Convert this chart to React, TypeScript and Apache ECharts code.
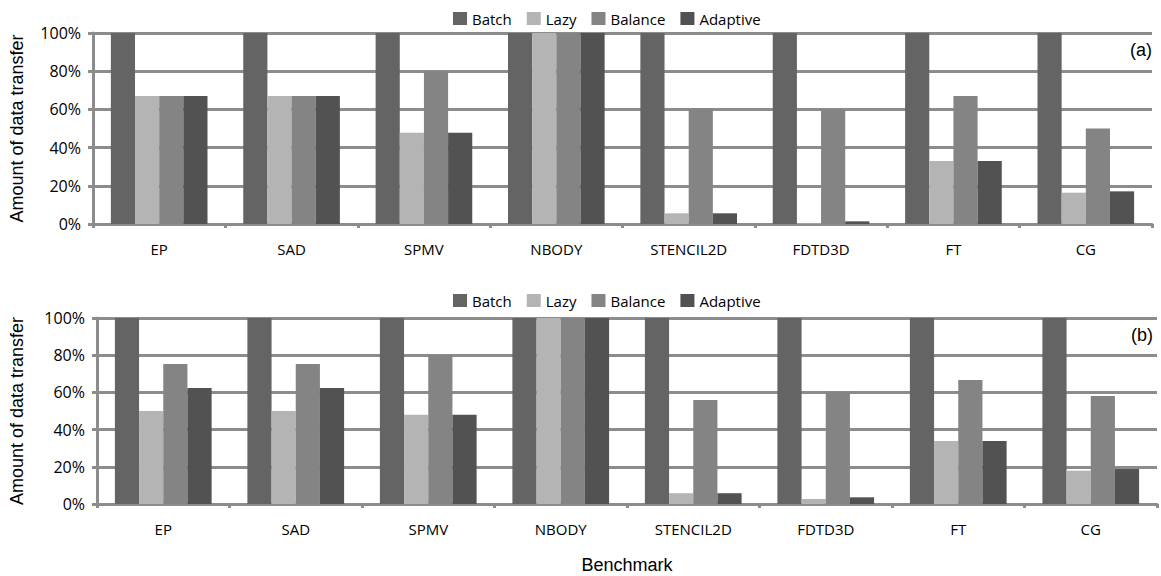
import React, { useEffect, useRef } from "react";
import * as echarts from "echarts";

const categories = ["EP", "SAD", "SPMV", "NBODY", "STENCIL2D", "FDTD3D", "FT", "CG"];
const seriesNames = ["Batch", "Lazy", "Balance", "Adaptive"];
const colors = ["#646464", "#b4b4b4", "#848484", "#525252"];

// Panel (a)
const batchA = [100, 100, 100, 100, 100, 100, 100, 100];
const lazyA = [67, 67, 47.8, 100, 5.6, 0.3, 33, 16.4];
const balanceA = [67, 67, 80, 100, 60.5, 60, 67, 50];
const adaptiveA = [67, 67, 47.8, 100, 5.6, 1.4, 33, 17.1];

// Panel (b)
const batchB = [100, 100, 100, 100, 100, 100, 100, 100];
const lazyB = [50, 50, 48, 100, 5.8, 2.7, 33.9, 17.9];
const balanceB = [75.3, 75.3, 80, 100, 55.9, 60.4, 66.7, 58.1];
const adaptiveB = [62.4, 62.4, 48, 100, 5.8, 3.6, 33.9, 18.8];

const panelLabels = ["(a)", "(b)"];
const yAxisTitle = "Amount of data transfer";
const xAxisTitle = "Benchmark";

export default function App() {
  const ref = useRef<HTMLDivElement>(null);
  useEffect(() => {
    document.body.style.margin = "0";
    const chart = echarts.init(ref.current!, null, { renderer: "svg" });
    const gray = "#8c8c8c";
    const tickFont = { fontFamily: "Open Sans", fontSize: 16, color: "#000" };
    const catFont = { fontFamily: "Open Sans", fontSize: 15, color: "#000" };
    const nameFont = { fontFamily: "Liberation Sans", fontSize: 18, color: "#000" };

    const grids = [
      { left: 93, right: 9, top: 33, height: 191 },
      { left: 97, right: 4, top: 318, height: 186 },
    ];
    const dataSets = [
      [batchA, lazyA, balanceA, adaptiveA],
      [batchB, lazyB, balanceB, adaptiveB],
    ];

    const xAxes = grids.map((_, i) => ({
      type: "category",
      gridIndex: i,
      data: categories,
      axisLine: { show: true, lineStyle: { color: gray, width: 3 } },
      axisTick: { show: true, length: 4, lineStyle: { color: gray, width: 3 } },
      axisLabel: { ...catFont, margin: 17 },
      name: i === 1 ? xAxisTitle : "",
      nameLocation: "middle",
      nameGap: 52,
      nameTextStyle: nameFont,
    }));
    const yAxes = grids.map((_, i) => ({
      type: "value",
      gridIndex: i,
      min: 0,
      max: 100,
      interval: 20,
      axisLine: { show: true, lineStyle: { color: gray, width: 3 } },
      axisTick: { show: true, length: 5, lineStyle: { color: gray, width: 3 } },
      splitLine: { show: true, lineStyle: { color: gray, width: 3 } },
      axisLabel: { ...tickFont, margin: 12, formatter: "{value}%" },
      name: yAxisTitle,
      nameLocation: "middle",
      nameGap: i === 0 ? 67 : 71,
      nameTextStyle: nameFont,
    }));

    const series: any[] = [];
    dataSets.forEach((set, gi) => {
      set.forEach((vals, si) => {
        series.push({
          type: "bar",
          name: seriesNames[si],
          xAxisIndex: gi,
          yAxisIndex: gi,
          data: vals,
          barGap: "0%",
          barCategoryGap: "27%",
          itemStyle: { color: colors[si] },
          emphasis: { disabled: true },
        });
      });
    });

    const legendBase = {
      data: seriesNames,
      left: 453,
      itemWidth: 14,
      itemHeight: 13,
      itemGap: 15,
      padding: 0,
      icon: "rect",
      selectedMode: false,
      textStyle: { fontFamily: "Open Sans", fontSize: 15, color: "#000" },
    };

    chart.setOption({
      animation: false,
      color: colors,
      grid: grids,
      xAxis: xAxes,
      yAxis: yAxes,
      legend: [
        { ...legendBase, top: 11 },
        { ...legendBase, top: 293 },
      ],
      graphic: [
        {
          type: "text",
          right: 9,
          top: 41,
          style: { text: panelLabels[0], fontFamily: "Liberation Sans", fontSize: 18, fill: "#000" },
        },
        {
          type: "text",
          right: 8,
          top: 326,
          style: { text: panelLabels[1], fontFamily: "Liberation Sans", fontSize: 18, fill: "#000" },
        },
      ],
      series,
    });
    return () => chart.dispose();
  }, []);
  return <div ref={ref} style={{ width: 1161, height: 576 }} />;
}
